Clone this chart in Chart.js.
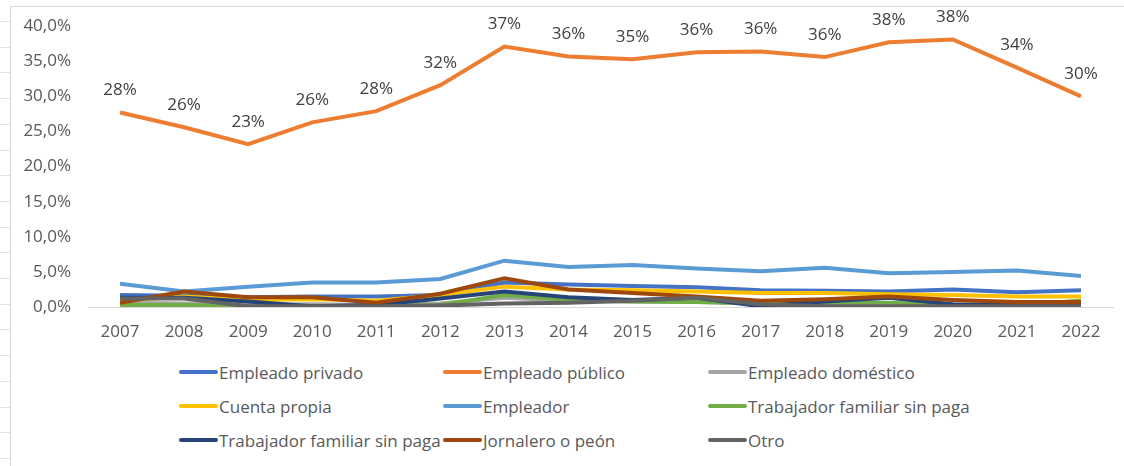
<!DOCTYPE html>
<html>
<head>
<meta charset="utf-8">
<script src="https://cdn.jsdelivr.net/npm/chart.js@4/dist/chart.umd.min.js"></script>
<style>
  html, body { margin: 0; padding: 0; background: #fff; }
  body { width: 1124px; height: 466px; position: relative; overflow: hidden; font-family: "Open Sans", sans-serif; }
  .sheet { position: absolute; left: 0; top: 0; width: 10px; height: 466px;
    background: repeating-linear-gradient(to bottom, transparent 0, transparent 21px, #e3e3e3 21px, #e3e3e3 22px, transparent 22px, transparent 25.7px); }
  .frame { position: absolute; left: 10px; top: 6px; width: 1114px; height: 460px; border-left: 1px solid #d9d9d9; border-top: 1px solid #d9d9d9; }
  .chart-box { position: absolute; left: 11px; top: 7px; width: 1113px; height: 345px; }
  #legend { position: absolute; left: 179px; top: 359px; }
  .legend-list { list-style: none; margin: 0; padding: 0; display: grid; grid-template-columns: 264px 265px 300px; grid-auto-rows: 34px; }
  .legend-list li { display: flex; align-items: center; font-size: 17px; color: #595959; white-space: nowrap; height: 26px; }
  .legend-list li span { display: inline-block; width: 39px; height: 4px; border-radius: 2px; margin-right: 1px; }
</style>
</head>
<body>
<div class="sheet"></div>
<div class="frame"></div>
<div class="chart-box"><canvas id="ocupacion"></canvas></div>
<div id="legend"></div>
<script>
const years = ['2007', '2008', '2009', '2010', '2011', '2012', '2013', '2014', '2015', '2016', '2017', '2018', '2019', '2020', '2021', '2022']

const empleadoPrivado = [1.7, 1.6, 1.4, 1.5, 1.5, 1.7, 3.5, 3.2, 3.0, 2.8, 2.4, 2.3, 2.2, 2.5, 2.1, 2.4]
const empleadoPublico = [27.7, 25.6, 23.2, 26.3, 27.9, 31.6, 37.1, 35.7, 35.3, 36.3, 36.4, 35.6, 37.7, 38.1, 34.1, 30.0]
const empleadoDomestico = [0.6, 0.5, 0.3, 0.4, 0.3, 0.5, 1.3, 0.9, 0.8, 0.7, 0.5, 0.4, 0.4, 0.3, 0.3, 0.3]
const cuentaPropia = [0.9, 1.5, 1.0, 1.1, 0.9, 1.7, 2.9, 2.5, 2.4, 2.2, 2.0, 2.0, 1.8, 1.7, 1.5, 1.5]
const empleador = [3.3, 2.2, 2.9, 3.5, 3.5, 4.0, 6.6, 5.7, 6.0, 5.5, 5.1, 5.6, 4.8, 5.0, 5.2, 4.4]
const familiarSinPaga = [0.3, 0.3, 0.1, 0.1, 0.1, 0.3, 1.7, 1.0, 0.8, 0.7, 0.5, 0.6, 0.6, 0.3, 0.3, 0.9]
const familiarSinPaga2 = [1.3, 1.3, 0.8, 0.1, 0.3, 1.2, 2.2, 1.4, 1.0, 1.3, 0.1, 0.8, 1.3, 0.4, 0.3, 0.3]
const jornalero = [0.6, 2.2, 1.4, 1.4, 0.6, 1.9, 4.1, 2.5, 2.0, 1.5, 0.9, 1.1, 1.5, 1.0, 0.7, 0.7]
const otro = [1.2, 1.2, 0.1, 0.1, 0.1, 0.2, 0.5, 0.6, 0.9, 1.3, 0.4, 0.1, 0.1, 0.1, 0.1, 0.1]

const seriesNames = ['Empleado privado', 'Empleado público', 'Empleado doméstico', 'Cuenta propia', 'Empleador',
  'Trabajador familiar sin paga', 'Trabajador familiar sin paga', 'Jornalero o peón', 'Otro']
const seriesValues = [empleadoPrivado, empleadoPublico, empleadoDomestico, cuentaPropia, empleador,
  familiarSinPaga, familiarSinPaga2, jornalero, otro]
const seriesColors = ['#4472C4', '#ED7D31', '#A5A5A5', '#FFC000', '#5B9BD5', '#70AD47', '#264478', '#9E480E', '#636363']

// labels over the orange line
const publicLabels = {
  id: 'publicLabels',
  afterDatasetsDraw (chart) {
    const ctx = chart.ctx
    const meta = chart.getDatasetMeta(1)
    ctx.save()
    ctx.font = '17px "Open Sans"'
    ctx.fillStyle = '#404040'
    ctx.textAlign = 'center'
    ctx.textBaseline = 'middle'
    meta.data.forEach((pt, i) => {
      ctx.fillText(Math.round(empleadoPublico[i]) + '%', pt.x, pt.y - 22)
    })
    ctx.restore()
  }
}

const chart = new Chart(document.getElementById('ocupacion'), {
  type: 'line',
  data: {
    labels: years,
    datasets: seriesNames.map((name, i) => ({
      label: name,
      data: seriesValues[i],
      borderColor: seriesColors[i],
      backgroundColor: seriesColors[i],
      borderWidth: 4,
      pointRadius: 0,
      tension: 0,
      order: -i
    }))
  },
  options: {
    responsive: true,
    maintainAspectRatio: false,
    animation: false,
    layout: { padding: { top: 6, right: 11, left: 0, bottom: 0 } },
    plugins: {
      legend: { display: false },
      tooltip: { enabled: false }
    },
    scales: {
      x: {
        offset: true,
        grid: { display: false },
        border: { display: true, color: '#d9d9d9', width: 1 },
        ticks: { color: '#595959', font: { family: 'Open Sans', size: 17 }, padding: 7, maxRotation: 0 },
        afterFit: scale => { scale.height = 45 }
      },
      y: {
        min: 0,
        max: 40,
        grid: { display: false },
        border: { display: false },
        ticks: {
          stepSize: 5,
          color: '#595959',
          font: { family: 'Open Sans', size: 17 },
          padding: 9,
          callback: v => v.toFixed(1).replace('.', ',') + '%'
        },
        afterFit: scale => { scale.width = 77 }
      }
    }
  },
  plugins: [publicLabels]
})

const text = ["<ul class='legend-list'>"]
chart.data.datasets.forEach(ds => {
  text.push('<li><span style="background-color:' + ds.borderColor + '"></span>' + ds.label + '</li>')
})
text.push('</ul>')
document.getElementById('legend').innerHTML = text.join('')
</script>
</body>
</html>
